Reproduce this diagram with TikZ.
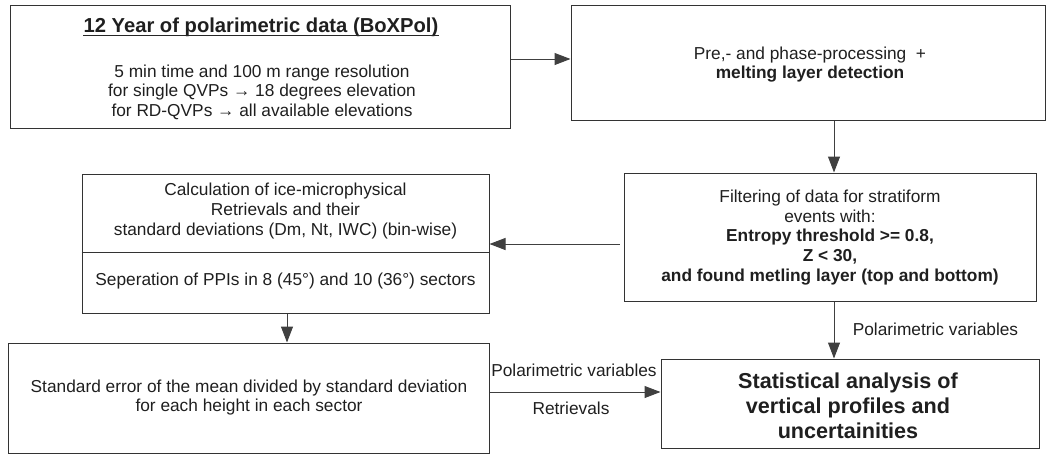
\documentclass[tikz,border=0pt]{standalone}
\usepackage{fontspec}
\setmainfont{Liberation Sans}
\usetikzlibrary{arrows.meta,calc}
\begin{document}
\begin{tikzpicture}[x=1pt,y=-1pt,
  box/.style={draw=black!80,line width=1pt,rectangle,inner sep=0pt},
  txt/.style={align=center,inner sep=0pt,text=black!88,font=\fontsize{17.3}{19.6}\selectfont},
  ttl/.style={inner sep=0pt,text=black!88,font=\fontsize{20.2}{24}\selectfont\bfseries},
  big/.style={align=center,inner sep=0pt,text=black!88,font=\fontsize{21.6}{25}\selectfont\bfseries},
  arr/.style={draw=black!75,line width=1pt,-{Triangle[length=16pt,width=12pt]}},
]
\useasboundingbox (0,0) rectangle (1047,456);

% boxes
\node[box,minimum width=500pt,minimum height=123pt] (b1) at (260.5,66.5) {};
\node[box,minimum width=474pt,minimum height=115pt] (b2) at (808,62.5) {};
\node[box,minimum width=412pt,minimum height=128pt] (filter) at (830,237) {};
\node[box,minimum width=407pt,minimum height=139pt] (calc) at (285.5,243.5) {};
\node[box,minimum width=481pt,minimum height=110pt] (std) at (248.5,398) {};
\node[box,minimum width=378pt,minimum height=89pt] (stat) at (850,403.5) {};
\draw[draw=black!80,line width=1pt] (calc.west |- 0,252) coordinate (dl) -- (calc.east |- dl) coordinate (dr);

% texts
\node[ttl,anchor=base] (t1) at (261,32) {12 Year of polarimetric data (BoXPol)};
\draw[line width=1pt,black!85] ($(t1.base west)+(0,3.5)$) -- ($(t1.base east)+(0,3.5)$);
\node[txt] (t1b) at (262,92) {5 min time and 100 m range resolution\\for single QVPs → 18 degrees elevation\\for RD-QVPs → all available elevations};
\node[txt] (t2) at (810,64.5) {Pre,- and phase-processing \ +\\\textbf{melting layer detection}};
\node[txt] (t3) at (830,237.5) {Filtering of data for stratiform\\events with:\\\textbf{Entropy threshold >= 0.8,}\\\textbf{Z < 30,}\\\textbf{and found metling layer (top and bottom)}};
\node[txt] (t4) at (285.5,211) {Calculation of ice-microphysical\\Retrievals and their\\standard deviations (Dm, Nt, IWC) (bin-wise)};
\node[txt] (t5) at (285.5,281) {Seperation of PPIs in 8 (45°) and 10 (36°) sectors};
\node[txt] (t6) at (249,397.5) {Standard error of the mean divided by standard deviation\\for each height in each sector};
\node[big] (t7) at (848,406) {Statistical analysis of\\vertical profiles and\\uncertainities};

% connector helpers
\coordinate (ya) at (0,59);
\coordinate (xb) at (834,0);
\coordinate (yc) at (0,244);
\coordinate (xd) at (287,0);
\coordinate (ye) at (0,392);

\draw[arr] (b1.east |- ya) -- (b2.west |- ya);
\draw[arr] (b2.south -| xb) -- (filter.north -| xb);
\draw[arr,shorten <=4pt] (filter.west |- yc) -- (calc.east |- yc);
\draw[arr] (calc.south -| xd) -- (std.north -| xd);
\draw[arr] (std.east |- ye) -- (stat.west |- ye);
\draw[arr] (filter.south -| xb) -- (stat.north -| xb);

% labels
\node[txt] (l1) at (574,370) {Polarimetric variables};
\node[txt] (l2) at (571,408) {Retrievals};
\node[txt] (l3) at (935.5,329) {Polarimetric variables};
\end{tikzpicture}
\end{document}
